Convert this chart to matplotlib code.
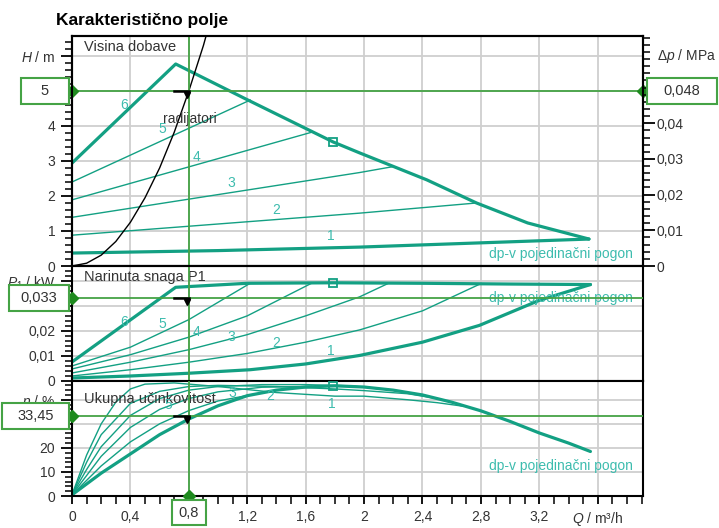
import matplotlib
matplotlib.use("Agg")
import matplotlib.pyplot as plt
import matplotlib.ticker as mtick
import matplotlib.transforms as mtrans
from matplotlib.patches import Rectangle

plt.rcParams['font.family'] = ['Liberation Sans', 'DejaVu Sans']
plt.rcParams['mathtext.fontset'] = 'custom'
plt.rcParams['mathtext.rm'] = 'Liberation Sans'
plt.rcParams['mathtext.it'] = 'Liberation Sans:italic'

# ---- values ----
# visina dobave H / m
q_hmax = [0, 0.71, 1.2, 1.79, 1.97, 2.43, 2.77, 3.12, 3.54]
h_max = [2.94, 5.77, 4.75, 3.54, 3.23, 2.46, 1.8, 1.23, 0.77]
q_h1 = [0, 1.0, 1.97, 3.54]
h_1 = [0.37, 0.44, 0.54, 0.77]
q_h2 = [0, 1.97, 2.77]
h_2 = [0.88, 1.51, 1.8]
q_h3 = [0, 1.97, 2.2]
h_3 = [1.39, 2.67, 2.84]
q_h4 = [0, 1.64]
h_4 = [1.89, 3.82]
q_h5 = [0, 1.22]
h_5 = [2.4, 4.74]
q_rad = [0, 0.1, 0.2, 0.3, 0.4, 0.5, 0.6, 0.7, 0.8, 0.9, 0.93]
h_rad = [0, 0.08, 0.31, 0.7, 1.25, 1.95, 2.8, 3.82, 5.0, 6.3, 6.75]

# narinuta snaga P1 / kW
q_pmax = [0, 0.71, 1.2, 1.79, 2.4, 3.0, 3.55]
p_max = [0.0076, 0.0374, 0.039, 0.0392, 0.039, 0.0387, 0.0385]
q_p1 = [0, 0.4, 0.8, 1.22, 1.6, 1.97, 2.4, 2.79, 3.2, 3.55]
p_1 = [0.0012, 0.002, 0.0031, 0.0045, 0.0068, 0.0102, 0.0155, 0.0222, 0.0322, 0.0385]
q_p2 = [0, 0.4, 0.8, 1.2, 1.6, 1.97, 2.4, 2.79]
p_2 = [0.002, 0.0045, 0.0075, 0.011, 0.0155, 0.0204, 0.028, 0.0386]
q_p3 = [0, 0.4, 0.8, 1.2, 1.6, 1.97, 2.16]
p_3 = [0.0032, 0.0075, 0.0125, 0.0185, 0.026, 0.0336, 0.0388]
q_p4 = [0, 0.4, 0.8, 1.2, 1.64]
p_4 = [0.0048, 0.0105, 0.0175, 0.026, 0.039]
q_p5 = [0, 0.4, 0.8, 1.22]
p_5 = [0.006, 0.0135, 0.0245, 0.039]

# ukupna ucinkovitost eta / %
q_emax = [0, 0.1, 0.2, 0.4, 0.6, 0.8, 1.0, 1.2, 1.4, 1.6, 1.8, 2.0, 2.2, 2.4, 2.6, 2.8, 3.0, 3.2, 3.4, 3.55]
e_max = [0.5, 5, 9.5, 17.5, 25.5, 32, 37.5, 41.7, 44, 45.3, 45.8, 45.3, 44, 42, 39, 35.4, 31, 26.2, 22, 18.5]
q_e1 = [0, 0.1, 0.2, 0.3, 0.4, 0.5, 0.7, 1.0, 1.4, 1.8, 2.0, 2.3, 2.5, 2.68]
e_1 = [0.5, 17, 30, 39, 44.5, 46.5, 47, 45.5, 43, 41.5, 41.5, 40, 38.8, 37.3]
q_e2 = [0, 0.1, 0.2, 0.4, 0.6, 0.8, 1.0, 1.4, 1.8, 2.0, 2.3, 2.5]
e_2 = [0.5, 14, 25.5, 38.5, 43.5, 45.5, 46, 45.5, 44.5, 43.8, 42.5, 40.5]
q_e3 = [0, 0.1, 0.2, 0.4, 0.6, 0.8, 1.0, 1.3, 1.6, 1.9, 2.2]
e_3 = [0.5, 11, 20.5, 33.5, 40.5, 44, 45.5, 46.3, 46.3, 45.8, 44]
q_e4 = [0, 0.1, 0.2, 0.4, 0.6, 0.8, 1.0, 1.3, 1.64]
e_4 = [0.5, 8.5, 16.5, 28.5, 36, 40.5, 43.3, 45.2, 45.6]
q_e5 = [0, 0.1, 0.2, 0.4, 0.6, 0.8, 1.0, 1.22]
e_5 = [0.5, 6.5, 12.5, 22.5, 30, 35.5, 39.5, 42]

# radna tocka
q_op = 0.8
h_op = 5
dp_op = "0,048"
p_op = 0.033
eta_op = 33.45
q_marker = 1.79

x_ticks = [0, 0.4, 0.8, 1.2, 1.6, 2.0, 2.4, 2.8, 3.2, 3.6]
x_labels = ["0", "0,4", "", "1,2", "1,6", "2", "2,4", "2,8", "3,2", "$Q$ / m³/h"]
h_ticks = [0, 1, 2, 3, 4, 5, 6]
h_labels = ["0", "1", "2", "3", "4", "", "$H$ / m"]
dp_ticks = [0, 0.01, 0.02, 0.03, 0.04]
dp_labels = ["0", "0,01", "0,02", "0,03", "0,04"]
p_ticks = [0, 0.01, 0.02, 0.03, 0.04]
p_labels = ["0", "0,01", "0,02", "", "$P_1$ / kW"]
e_ticks = [0, 10, 20, 30, 40]
e_labels = ["0", "10", "20", "", "$\\eta$ / %"]

TEAL = "#13a083"
LBL = "#3dbcae"
GREEN = "#45a345"
DGREEN = "#1f8a1f"
TXT = "#333333"
W, Hpx = 719, 528

fig = plt.figure(figsize=(W / 100, Hpx / 100), dpi=100)
ax1 = fig.add_axes([72 / W, 1 - 266 / Hpx, 571 / W, 230 / Hpx])
ax2 = fig.add_axes([72 / W, 1 - 381 / Hpx, 571 / W, 115 / Hpx])
ax3 = fig.add_axes([72 / W, 1 - 496 / Hpx, 571 / W, 115 / Hpx])

xmax = 3.91
ax1.set_ylim(0, 6.57)
ax2.set_ylim(0, 0.0459)
ax3.set_ylim(0, 47.8)

for ax, yt, yl, ymin in [(ax1, h_ticks, h_labels, 0.2), (ax2, p_ticks, p_labels, 0.002),
                         (ax3, e_ticks, e_labels, 2)]:
    ax.set_xlim(0, xmax)
    ax.set_xticks(x_ticks)
    ax.xaxis.set_minor_locator(mtick.MultipleLocator(0.1))
    ax.set_yticks(yt)
    ax.set_yticklabels(yl)
    ax.yaxis.set_minor_locator(mtick.MultipleLocator(ymin))
    ax.grid(which='major', color='#cfcfcf', lw=1.3)
    ax.set_axisbelow(True)
    ax.tick_params(axis='y', which='major', length=8, width=1.3, labelsize=10, labelcolor=TXT, pad=4)
    ax.tick_params(axis='y', which='minor', length=5, width=1.1)
    for s in ax.spines.values():
        s.set_linewidth(1.5)
    ax.axvline(q_op, color=GREEN, lw=1.3, zorder=4)

for ax in (ax1, ax2):
    ax.tick_params(axis='x', which='both', length=0, labelbottom=False)
ax3.set_xticklabels(x_labels)
ax3.tick_params(axis='x', which='major', length=6, width=1.3, labelsize=10, labelcolor=TXT, pad=4)
ax3.tick_params(axis='x', which='minor', length=6, width=1.1)

# right axis dp
ax1r = ax1.twinx()
ax1r.set_ylim(0, 6.57 * 0.00981)
ax1r.set_yticks(dp_ticks)
ax1r.set_yticklabels(dp_labels)
ax1r.yaxis.set_minor_locator(mtick.MultipleLocator(0.002))
ax1r.tick_params(axis='y', which='major', length=8.5, width=1.3, labelsize=10, labelcolor=TXT, pad=1.5)
ax1r.tick_params(axis='y', which='minor', length=5, width=1.1)
for s in ax1r.spines.values():
    s.set_linewidth(1.5)
ax1.text(1.0245, 6, "$\\Delta p$ / MPa", transform=mtrans.blended_transform_factory(ax1.transAxes, ax1.transData),
         ha='left', va='center', fontsize=10, color=TXT)

# H panel
ax1.plot(q_hmax, h_max, color=TEAL, lw=2.3, solid_capstyle='round')
ax1.plot(q_h1, h_1, color=TEAL, lw=2.3, solid_capstyle='round')
for q, h in [(q_h2, h_2), (q_h3, h_3), (q_h4, h_4), (q_h5, h_5)]:
    ax1.plot(q, h, color=TEAL, lw=1.0)
ax1.plot(q_rad, h_rad, color='black', lw=1.0, zorder=3)
ax1.text(0.62, 4.2, "radijatori", fontsize=10, color=TXT, ha='left', va='center')
ax1.text(0.08, 6.26, "Visina dobave", fontsize=10.5, color=TXT, ha='left', va='center')
ax1.text(3.84, 0.33, "dp-v pojedinačni pogon", fontsize=10, color=LBL, ha='right', va='center')
for lab, q, h in [("6", 0.36, 4.6), ("5", 0.62, 3.9), ("4", 0.85, 3.1), ("3", 1.09, 2.37),
                  ("2", 1.4, 1.6), ("1", 1.77, 0.86)]:
    ax1.text(q, h, lab, fontsize=10, color=LBL, ha='center', va='center')
ax1.axhline(h_op, color=GREEN, lw=1.3, zorder=4)

# P1 panel
ax2.plot(q_pmax, p_max, color=TEAL, lw=2.3, solid_capstyle='round')
ax2.plot(q_p1, p_1, color=TEAL, lw=2.3, solid_capstyle='round')
for q, p in [(q_p2, p_2), (q_p3, p_3), (q_p4, p_4), (q_p5, p_5)]:
    ax2.plot(q, p, color=TEAL, lw=1.0)
ax2.text(0.08, 0.0415, "Narinuta snaga P1", fontsize=10.5, color=TXT, ha='left', va='center')
ax2.text(3.84, 0.033, "dp-v pojedinačni pogon", fontsize=10, color=LBL, ha='right', va='center')
for lab, q, p in [("6", 0.36, 0.0236), ("5", 0.62, 0.0228), ("4", 0.85, 0.0196), ("3", 1.09, 0.0176),
                  ("2", 1.4, 0.0152), ("1", 1.77, 0.012)]:
    ax2.text(q, p, lab, fontsize=10, color=LBL, ha='center', va='center')
ax2.axhline(p_op, color=GREEN, lw=1.3, zorder=4)

# eta panel
ax3.plot(q_emax, e_max, color=TEAL, lw=2.3, solid_capstyle='round')
for q, e in [(q_e1, e_1), (q_e2, e_2), (q_e3, e_3), (q_e4, e_4), (q_e5, e_5)]:
    ax3.plot(q, e, color=TEAL, lw=1.0)
ax3.text(0.08, 40.5, "Ukupna učinkovitost", fontsize=10.5, color=TXT, ha='left', va='center')
ax3.text(3.84, 12.5, "dp-v pojedinačni pogon", fontsize=10, color=LBL, ha='right', va='center')
for lab, q, e in [("5", 0.66, 38), ("3", 1.1, 42.8), ("2", 1.36, 41.7), ("1", 1.78, 38.3)]:
    ax3.text(q, e, lab, fontsize=10, color=LBL, ha='center', va='center')
ax3.axhline(eta_op, color=GREEN, lw=1.3, zorder=4)

# operating point marks and squares
for ax, val, sq in [(ax1, h_op, h_max[3]), (ax2, p_op, p_max[3]), (ax3, eta_op, e_max[10])]:
    ax.plot([q_op - 0.1, q_op], [val, val], color='black', lw=1.8, zorder=5)
    off = mtrans.offset_copy(ax.transData, fig=fig, x=-2, y=-4, units='dots')
    ax.plot(q_op, val, marker='v', color='black', ms=5, transform=off, zorder=5)
    ax.plot(q_marker, sq, marker='s', mfc='none', mec=TEAL, mew=1.3, ms=6, zorder=5)

# diamonds
ax1.plot([0, xmax], [h_op, h_op], 'D', color=DGREEN, ms=6, clip_on=False, zorder=6)
ax2.plot(0, p_op, 'D', color=DGREEN, ms=6, clip_on=False, zorder=6)
ax3.plot(0, eta_op, 'D', color=DGREEN, ms=6, clip_on=False, zorder=6)
ax3.plot(q_op, 0, 'D', color=DGREEN, ms=6, clip_on=False, zorder=6)


def value_box(ax, val, x0, x1, text):
    yc = ax.transData.transform((0, val))[1] / fig.bbox.height
    h = 26 / Hpx
    fig.add_artist(Rectangle((x0 / W, yc - h / 2), (x1 - x0) / W, h, transform=fig.transFigure,
                             fc='white', ec=GREEN, lw=1.5, zorder=10))
    fig.text((x0 + x1) / 2 / W, yc, text, ha='center', va='center', fontsize=10.5, color=TXT, zorder=11)


value_box(ax1, h_op, 21, 69, "5")
value_box(ax1, h_op, 647, 717, dp_op)
value_box(ax2, p_op, 9, 69, "0,033")
value_box(ax3, eta_op, 2, 69, "33,45")

xc = ax3.transData.transform((q_op, 0))[0]
fig.add_artist(Rectangle(((xc - 17) / W, 3 / Hpx), 34 / W, 25 / Hpx, transform=fig.transFigure,
                         fc='white', ec=GREEN, lw=1.5, zorder=10))
fig.text(xc / W, 15 / Hpx, "0,8", ha='center', va='center', fontsize=10.5, color=TXT, zorder=11)

fig.text(56 / W, 1 - 21 / Hpx, "Karakteristično polje", fontsize=12.5, fontweight='bold', ha='left', va='center')

fig.savefig("out.png", dpi=100)
